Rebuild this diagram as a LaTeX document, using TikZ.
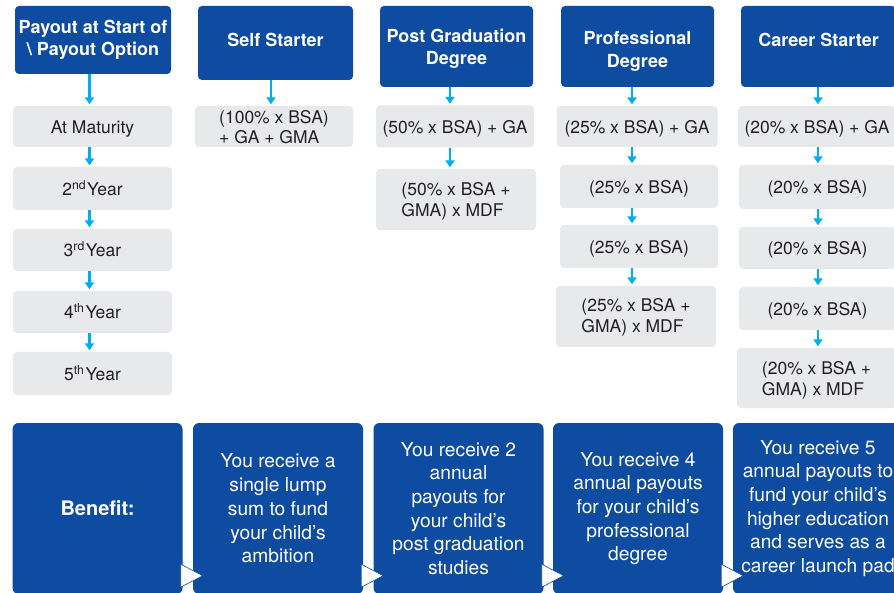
\documentclass[tikz,border=0pt]{standalone}
\usepackage{fontspec}
\setmainfont{TeX Gyre Heros}
\usetikzlibrary{arrows.meta}
\definecolor{hdblue}{RGB}{13,76,161}
\definecolor{cellgray}{RGB}{232,233,235}
\definecolor{flowblue}{RGB}{0,174,239}
\definecolor{txtgray}{RGB}{35,31,32}
\tikzset{
  head/.style={fill=hdblue, text=white, rounded corners=4pt, align=center, inner sep=0pt,
    font=\bfseries\fontsize{18}{22.5}\selectfont},
  cellml/.style={fill=cellgray, text=txtgray, rounded corners=4pt, align=left, inner sep=0pt,
    font=\fontsize{17.5}{21}\selectfont},
  cell/.style={cellml, align=center, text height=16pt, text depth=2pt},
  bene/.style={fill=hdblue, text=white, rounded corners=6pt, align=center, inner sep=0pt,
    minimum width=170pt, minimum height=171pt, font=\fontsize{19.2}{23.7}\selectfont},
  flow/.style={draw=flowblue, line width=2.4pt, -{Triangle[length=7pt,width=9pt]}, shorten >=1.5pt},
  notch/.style={fill=white, draw=hdblue, line width=0.6pt, line join=miter}
}
\begin{document}
\begin{tikzpicture}[x=1pt,y=-1pt]
\useasboundingbox[fill=white] (0,0) rectangle (894,593);
\clip (0,0) rectangle (894,593);

% header row
\node[head, minimum width=156pt, minimum height=68pt] (h1) at (93,40) {Payout at Start of\\\textbackslash{} Payout Option};
\node[head, minimum width=155pt, minimum height=74pt, text depth=6pt] (h2) at (275.5,43) {Self Starter};
\node[head, minimum width=153pt, minimum height=81pt, text height=40pt] (h3) at (456.5,46.5) {Post Graduation\\Degree};
\node[head, minimum width=153pt, minimum height=81pt, text height=45pt] (h4) at (637.5,46.5) {Professional\\Degree};
\node[head, minimum width=155pt, minimum height=81pt, text depth=13pt] (h5) at (818.5,46.5) {Career Starter};

% payout years
\node[cell, minimum width=159pt, minimum height=41pt] (c11) at (92.5,126.5) {At Maturity};
\node[cell, minimum width=159pt, minimum height=43pt] (c12) at (92.5,188.5) {2\textsuperscript{nd}\kern1pt Year};
\node[cell, minimum width=159pt, minimum height=42pt] (c13) at (92.5,250) {3\textsuperscript{rd}\kern1pt Year};
\node[cell, minimum width=159pt, minimum height=42pt] (c14) at (92.5,312) {4\textsuperscript{th}\kern1pt Year};
\node[cell, minimum width=159pt, minimum height=43pt] (c15) at (92.5,373.5) {5\textsuperscript{th}\kern1pt Year};

% self starter
\node[cellml, minimum width=158pt, minimum height=41pt, text height=35pt, font=\fontsize{17.5}{20.5}\selectfont] (c21) at (274,126.5) {(100\% x BSA)\\+ GA + GMA};

% post graduation
\node[cell, minimum width=158pt, minimum height=42pt] (c31) at (455,126.5) {(50\% x BSA) + GA};
\node[cellml, minimum width=160pt, minimum height=61pt, text height=38pt] (c32) at (456,199.5) {(50\% x BSA +\\GMA) x MDF};

% professional
\node[cell, minimum width=161pt, minimum height=41pt] (c41) at (637,126.5) {(25\% x BSA) + GA};
\node[cell, minimum width=158pt, minimum height=43pt] (c42) at (639,186.5) {(25\% x BSA)};
\node[cell, minimum width=158pt, minimum height=43pt] (c43) at (639,246.5) {(25\% x BSA)};
\node[cellml, minimum width=160pt, minimum height=61pt, text height=36pt] (c44) at (636,316.5) {(25\% x BSA +\\GMA) x MDF};

% career starter
\node[cell, minimum width=158pt, minimum height=41pt] (c51) at (817,126.5) {(20\% x BSA) + GA};
\node[cell, minimum width=157pt, minimum height=44pt] (c52) at (817.5,187) {(20\% x BSA)};
\node[cell, minimum width=157pt, minimum height=42pt] (c53) at (817.5,248) {(20\% x BSA)};
\node[cell, minimum width=157pt, minimum height=43pt] (c54) at (817.5,308.5) {(20\% x BSA)};
\node[cellml, minimum width=159pt, minimum height=60pt, text height=38pt] (c55) at (816.5,378) {(20\% x BSA +\\GMA) x MDF};

% arrow columns
\coordinate (a1) at (89.5,0);
\coordinate (a2) at (271,0);
\coordinate (a3) at (450,0);
\coordinate (a4) at (632,0);
\coordinate (a5) at (818,0);

\path[flow] (h1.south -| a1) -- (c11.north -| a1);
\path[flow] (c11.south -| a1) -- (c12.north -| a1);
\path[flow] (c12.south -| a1) -- (c13.north -| a1);
\path[flow] (c13.south -| a1) -- (c14.north -| a1);
\path[flow] (c14.south -| a1) -- (c15.north -| a1);

\path[flow] (h2.south -| a2) -- (c21.north -| a2);

\path[flow] (h3.south -| a3) -- (c31.north -| a3);
\path[flow] (c31.south -| a3) -- (c32.north -| a3);

\path[flow] (h4.south -| a4) -- (c41.north -| a4);
\path[flow] (c41.south -| a4) -- (c42.north -| a4);
\path[flow] (c42.south -| a4) -- (c43.north -| a4);
\path[flow] (c43.south -| a4) -- (c44.north -| a4);

\path[flow] (h5.south -| a5) -- (c51.north -| a5);
\path[flow] (c51.south -| a5) -- (c52.north -| a5);
\path[flow] (c52.south -| a5) -- (c53.north -| a5);
\path[flow] (c53.south -| a5) -- (c54.north -| a5);
\path[flow] (c54.south -| a5) -- (c55.north -| a5);

% benefit row
\node[bene, font=\bfseries\fontsize{20}{23.7}\selectfont] (b1) at (97.5,508.5) {Benefit:};
\node[bene] (b2) at (278,508.5) {You receive a\\single lump\\sum to fund\\your child’s\\ambition};
\node[bene] (b3) at (458.5,508.5) {You receive 2\\annual\\payouts for\\your child’s\\post graduation\\studies};
\node[bene] (b4) at (638,508.5) {You receive 4\\annual payouts\\for your child’s\\professional\\degree};
\node[bene] (b5) at (818,508.5) {You receive 5\\annual payouts to\\fund your child’s\\higher education\\and serves as a\\career launch pad};

\filldraw[notch] ([shift={(-2pt,7pt)}]b1.south east) -- ([shift={(-2pt,30pt)}]b1.south east) -- ([shift={(20pt,18.5pt)}]b1.south east) -- cycle;
\filldraw[notch] ([shift={(-2pt,7pt)}]b2.south east) -- ([shift={(-2pt,30pt)}]b2.south east) -- ([shift={(20pt,18.5pt)}]b2.south east) -- cycle;
\filldraw[notch] ([shift={(-2pt,7pt)}]b3.south east) -- ([shift={(-2pt,30pt)}]b3.south east) -- ([shift={(20pt,18.5pt)}]b3.south east) -- cycle;
\filldraw[notch] ([shift={(-2pt,7pt)}]b4.south east) -- ([shift={(-2pt,30pt)}]b4.south east) -- ([shift={(20pt,18.5pt)}]b4.south east) -- cycle;
\end{tikzpicture}
\end{document}
